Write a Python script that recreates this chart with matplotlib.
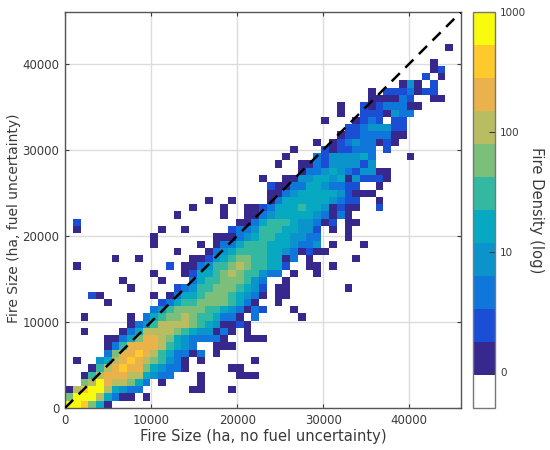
import numpy as np
import matplotlib
matplotlib.use("Agg")
import matplotlib.pyplot as plt
from matplotlib.colors import ListedColormap, BoundaryNorm

# Colour class of each bin, bottom row first ('.' = empty, 'a' = 10, 'b' = 11)
density_rows = [
    "bba751",
    "7bbb85311.1",
    "18abb85433......11...1",
    "..78b988753.1....1",
    "..168999885433...1....111",
    "...1689a99754331.....11",
    ".1..4589a9876431.1......1",
    ".....3799a98653313.1",
    ".....136999986543..111",
    ".....1135799875433331..111",
    "..1....135888876544131.1",
    "........1346888876541121",
    "..1.....1.3567787665331.3.....1",
    "...........346777766543132...1",
    ".....1......2356677776531..1",
    "...21......1.1355677765431.11",
    "........1.....234667776542.11.......1",
    ".......1....1...3566777643..1",
    "...........1...1255678766433.1..1",
    ".1...........2.11346678766552..11.1",
    "......1..1......11245677665513.1.....1",
    "..............1...1345666655431211",
    "...........1.....1.13356665554334.1...1",
    "...........1.......11134566554433...1",
    ".1..........1..1.....233466655442.1.1",
    ".2....................1135666544312.11",
    "..............1.....1..11345555543131",
    "................1...1..112355565541211..2",
    "..................1..1....135555554322..1",
    "..........................11345555542111",
    "..........................211335543322..1",
    ".........................1..11445545142221",
    "..............................133454324411",
    "...........................1..1132444424",
    "............................1...32444453....1",
    ".............................1...2122333.2",
    "................................1.123433121",
    "...................................122333311",
    "....................................22344422",
    ".................................1...1232.22",
    "...................................1..2221433",
    "...................................1..21233311",
    ".......................................111132..11",
    ".......................................1.2223122",
    "...........................................141.2",
    "..............................................2.1",
    "...............................................12",
    "...............................................1",
    "",
    ".................................................1",
]
class_counts = [0, 1, 2, 4, 8, 15, 30, 55, 100, 200, 400, 800]
class_colors = ["#ffffff", "#36288c", "#1a4fd5", "#0f77db", "#0b93cc", "#07a9c2",
                "#33b8a1", "#7cbf7b", "#b9bd61", "#e9b24a", "#fdc92b", "#f9fb0e"]

axis_max = 46000
n_xbins = 51
n_ybins = 54.5
ticks = [0, 10000, 20000, 30000, 40000]
cbar_ticks = [0, 1, 2, 3]
cbar_labels = ["0", "10", "100", "1000"]

# Convert the text rows to a matrix of counts
n_rows = len(density_rows)
counts = np.zeros((n_rows, n_xbins))
for r, row in enumerate(density_rows):
    for c, ch in enumerate(row):
        if ch != ".":
            counts[r, c] = class_counts[int(ch, 16)]

log_counts = np.ma.masked_where(counts == 0, counts)
log_counts = np.ma.log10(log_counts)

cmap = ListedColormap(class_colors)
bounds = np.linspace(-0.3, 3, 13)
norm = BoundaryNorm(bounds, cmap.N)

dark = "#3a3a3a"
fig = plt.figure(figsize=(5.5, 4.5), dpi=100)
ax = fig.add_axes([65 / 550, 1 - 408 / 450, 396 / 550, 396 / 450])
mesh = ax.imshow(log_counts, cmap=cmap, norm=norm, origin="lower", aspect="auto",
                 interpolation="nearest", zorder=1,
                 extent=[0, axis_max, 0, n_rows * axis_max / n_ybins])
ax.plot([0, axis_max], [0, axis_max], color="black", linewidth=1.8,
        dashes=(4.6, 3.1), zorder=3)

ax.set_xlim(0, axis_max)
ax.set_ylim(0, axis_max)
ax.set_xticks(ticks)
ax.set_yticks(ticks)
ax.set_axisbelow(True)
ax.grid(True, color="#dcdcdc", linewidth=1)
ax.tick_params(direction="in", top=True, right=True, length=3, width=0.8, color=dark,
               labelcolor=dark, labelsize=8.5, pad=4)
ax.set_xlabel("Fire Size (ha, no fuel uncertainty)", fontsize=10.6, color=dark, labelpad=2)
ax.set_ylabel("Fire Size (ha, fuel uncertainty)", fontsize=10, color=dark)
ax.yaxis.set_label_coords(-0.111, 0.48)
for spine in ax.spines.values():
    spine.set_color("#555555")
    spine.set_linewidth(1)

# Colorbar with the ticks on the inside of the right edge
cax = fig.add_axes([472.5 / 550, 1 - 408 / 450, 22 / 550, 396 / 450])
cbar = fig.colorbar(mesh, cax=cax, boundaries=bounds, spacing="proportional")
cbar.set_ticks(cbar_ticks)
cbar.set_ticklabels(cbar_labels)
cbar.ax.minorticks_off()
cbar.ax.tick_params(direction="in", length=4, width=0.8, color=dark, labelcolor=dark,
                    labelsize=7.5, pad=4)
cbar.outline.set_edgecolor("#777777")
cbar.outline.set_linewidth(1)
cbar.set_label("Fire Density (log)", fontsize=10.6, color=dark, rotation=270, labelpad=13)

fig.savefig("out.png", dpi=100)
